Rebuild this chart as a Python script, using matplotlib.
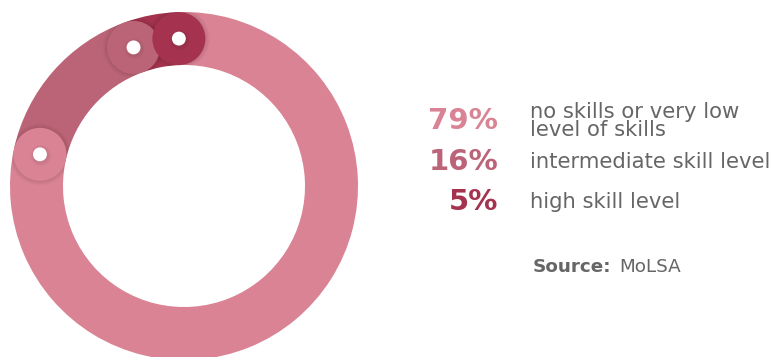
import numpy as np
import matplotlib.pyplot as plt
from matplotlib.patches import Circle, Wedge

plt.rcParams["font.family"] = ["DejaVu Sans"]

labels = ["no skills or very low\nlevel of skills", "intermediate skill level", "high skill level"]
shares = [79, 16, 5]
colors = ["#DA8394", "#BC6477", "#A5334F"]
source = "MoLSA"

W, H = 772, 357
fig = plt.figure(figsize=(W / 100, H / 100), dpi=100)

# donut axes: outer radius 174 px, centre at (184, 186) from the top
R = 174
cx, cy = 184, 186
ax = fig.add_axes([(cx - R) / W, (H - cy - R) / H, 2 * R / W, 2 * R / H])
ring = 53 / R
start = 92

ax.pie(shares, colors=colors, startangle=start, counterclock=False,
       radius=1, wedgeprops=dict(width=ring, linewidth=0))
ax.set_xlim(-1, 1)
ax.set_ylim(-1, 1)
ax.set_aspect("equal")
ax.axis("off")

clip = Wedge((0, 0), 1, 0, 360, width=ring, transform=ax.transData)

# rounded caps at the end of each segment, with a white dot
rm = 1 - ring / 2
ends = start - np.cumsum(shares) * 3.6
for ang, col in zip(ends, colors):
    a = np.deg2rad(ang)
    x, y = rm * np.cos(a), rm * np.sin(a)
    # soft shadow around the cap edge, kept inside the ring
    for k in range(5):
        p = ax.add_patch(Circle((x, y), ring / 2 + 0.005 * (k + 1), color="k",
                                alpha=0.02, lw=0, zorder=3))
        p.set_clip_path(clip)
    ax.add_patch(Circle((x, y), ring / 2, color=col, lw=0, zorder=4))
    for k in range(4):
        ax.add_patch(Circle((x + 0.005, y - 0.007), 0.043 + 0.006 * k, color="k",
                            alpha=0.018, lw=0, zorder=5))
    ax.add_patch(Circle((x, y), 0.04, color="white", lw=0, zorder=6))

# legend text
tx = fig.add_axes([0, 0, 1, 1])
tx.set_xlim(0, W)
tx.set_ylim(H, 0)
tx.axis("off")
rows_y = [121, 162, 202]
for yv, s, lab, col in zip(rows_y, shares, labels, colors):
    tx.text(498, yv, f"{s}%", color=col, fontsize=21, fontweight="bold",
            ha="right", va="center")
    tx.text(530, yv, lab, color="#666666", fontsize=15.2, ha="left",
            va="center", linespacing=0.88)
tx.text(533, 267, "Source:", color="#666666", fontsize=13.2, fontweight="bold",
        ha="left", va="center")
tx.text(619, 267, source, color="#666666", fontsize=13.2, ha="left", va="center")

fig.savefig("out.png", dpi=100)
